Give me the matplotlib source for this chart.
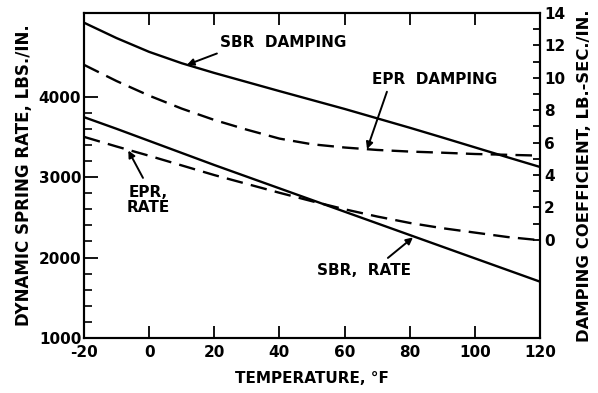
import numpy as np
import matplotlib
matplotlib.use("Agg")
import matplotlib.pyplot as plt
from matplotlib.ticker import FixedLocator

plt.rcParams['font.family'] = 'DejaVu Sans'
plt.rcParams['font.weight'] = 'bold'
plt.rcParams['axes.labelweight'] = 'bold'
plt.rcParams['axes.unicode_minus'] = False

# temperature, deg F
temp = [-20, -10, 0, 10, 20, 30, 40, 50, 60, 70, 80, 90, 100, 110, 120]

# damping coefficient, lb.-sec./in. (right axis)
sbr_damp = [13.4, 12.45, 11.6, 10.9, 10.3, 9.74, 9.18, 8.63, 8.08, 7.5, 6.92, 6.32, 5.71, 5.1, 4.5]
epr_damp = [10.8, 9.8, 8.9, 8.1, 7.4, 6.8, 6.25, 5.9, 5.7, 5.55, 5.45, 5.38, 5.3, 5.25, 5.2]

# dynamic spring rate, lbs./in. (left axis)
sbr_rate = [3745, 3600, 3450, 3300, 3150, 3005, 2860, 2715, 2570, 2425, 2280, 2135, 1990, 1845, 1700]
epr_rate = [3500, 3380, 3265, 3145, 3025, 2915, 2805, 2700, 2600, 2510, 2430, 2365, 2310, 2255, 2215]

xticks = [-20, 0, 20, 40, 60, 80, 100, 120]
left_ticks = [1000, 2000, 3000, 4000]
right_ticks = [0, 2, 4, 6, 8, 10, 12, 14]

fig = plt.figure(figsize=(5.98, 3.93), dpi=100)
ax = fig.add_axes([0.1405, 0.14, 0.7625, 0.827])
ax2 = ax.twinx()

dash = (0, (7, 3.5))
ax.plot(temp, sbr_rate, color='black', lw=1.7)
ax.plot(temp, epr_rate, color='black', lw=1.7, ls=dash)
ax2.plot(temp, sbr_damp, color='black', lw=1.7)
ax2.plot(temp, epr_damp, color='black', lw=1.7, ls=dash)

ax.set_xlim(-20, 120)
ax.set_ylim(1000, 5040)
ax2.set_ylim(-6.05, 14)

ax.set_xticks(xticks)
ax.set_yticks(left_ticks)
ax.yaxis.set_minor_locator(FixedLocator([v for v in range(1200, 4000, 200) if v % 1000]))
ax2.set_yticks(right_ticks)
ax2.yaxis.set_minor_locator(FixedLocator(list(range(1, 14, 2))))

ax.tick_params(axis='x', which='major', direction='in', length=8.5, width=1.3,
               top=True, labelsize=11, pad=5)
ax.tick_params(axis='y', which='major', direction='in', length=10, width=1.3,
               labelsize=11, pad=2)
ax.tick_params(axis='y', which='minor', direction='in', length=5.5, width=1.2)
ax2.tick_params(axis='y', which='both', direction='in', length=5, width=1.3,
                labelsize=11, pad=3)

for a in (ax, ax2):
    for s in a.spines.values():
        s.set_linewidth(1.5)

ax.set_xlabel('TEMPERATURE, °F', fontsize=11, labelpad=8)
ax.set_ylabel('DYNAMIC SPRING RATE, LBS./IN.', fontsize=12, labelpad=4)
ax2.set_ylabel('DAMPING COEFFICIENT, LB.-SEC./IN.', fontsize=11.8, labelpad=8)

arrow = dict(arrowstyle='-|>', color='black', lw=1.4, mutation_scale=10, shrinkA=0, shrinkB=0)

ax2.text(21.8, 12.16, 'SBR  DAMPING', fontsize=11, ha='left', va='center')
ax2.annotate('', xy=(11.6, 10.8), xytext=(20.8, 11.5), arrowprops=arrow)

ax2.text(87.5, 9.88, 'EPR  DAMPING', fontsize=11, ha='center', va='center')
ax2.annotate('', xy=(66.9, 5.6), xytext=(73, 9.14), arrowprops=arrow)

ax.text(-0.3, 2716, 'EPR,\nRATE', fontsize=11, ha='center', va='center',
        multialignment='center', linespacing=1.05)
ax.annotate('', xy=(-6.4, 3330), xytext=(-1.9, 2990), arrowprops=arrow)

ax.text(66, 1833, 'SBR,  RATE', fontsize=11, ha='center', va='center')
ax.annotate('', xy=(81, 2250), xytext=(73.3, 1995), arrowprops=arrow)

fig.savefig('out.png', dpi=100)
